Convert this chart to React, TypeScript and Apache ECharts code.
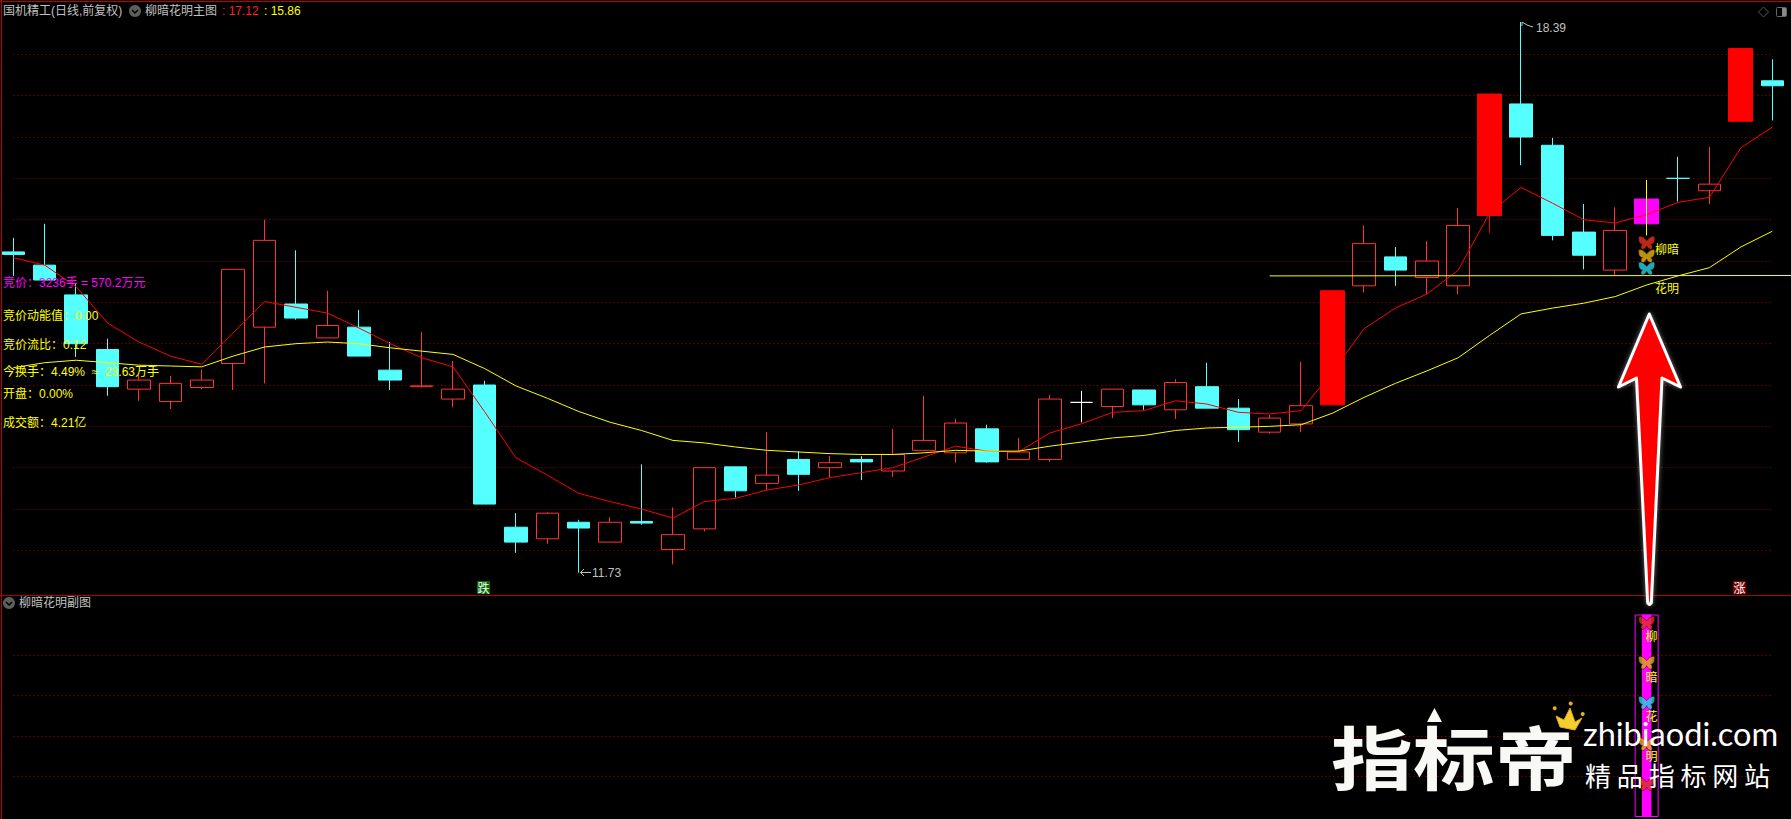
import React, { useEffect, useRef } from "react";
import * as echarts from "echarts";

const categories = Array.from({ length: 57 }, (_, i) => `D${i + 1}`);

const openVals = [15.61,15.45,15.09,14.43,13.95,13.80,13.97,14.26,14.70,14.98,14.57,14.70,14.18,13.98,13.83,14.00,12.28,12.14,12.34,12.10,12.35,12.01,12.26,13.01,12.81,13.10,13.00,13.10,12.96,13.21,13.18,13.47,13.10,13.10,13.79,13.74,13.94,13.70,13.98,13.72,13.43,13.53,13.76,15.20,15.55,15.30,15.20,16.05,17.40,16.90,15.85,15.39,15.95,16.50,16.35,17.19,17.68];
const closeVals = [15.58,15.27,14.50,13.98,14.06,14.02,14.06,15.40,15.75,14.81,14.72,14.35,14.06,13.99,13.95,12.56,12.10,12.45,12.27,12.34,12.33,12.19,13.00,12.72,12.91,12.92,13.06,13.07,13.16,13.33,13.54,13.07,13.19,13.83,13.79,13.95,13.76,14.03,13.72,13.46,13.60,13.75,15.14,15.71,15.39,15.50,15.93,17.52,17.00,15.81,15.57,15.87,16.25,16.50,16.43,18.07,17.62];
const lowVals = [15.32,15.27,14.34,13.87,13.81,13.71,13.95,13.94,14.02,14.79,14.57,14.35,13.94,13.97,13.73,12.56,11.97,12.08,11.73,12.10,12.31,11.83,12.23,12.64,12.73,12.72,12.88,12.85,12.89,13.20,13.06,13.06,13.10,13.07,13.55,13.60,13.70,13.59,13.72,13.31,13.41,13.43,13.76,15.12,15.20,15.10,15.10,15.84,16.66,15.75,15.40,15.33,15.81,16.22,16.19,17.19,17.20];
const highVals = [15.78,15.95,15.22,14.56,14.12,14.11,14.19,15.40,16.00,15.63,15.14,14.91,14.52,14.64,14.29,14.05,12.45,12.46,12.37,12.40,13.04,12.52,13.00,13.01,13.43,13.20,13.14,13.14,13.47,13.87,13.59,13.52,13.36,13.88,13.93,13.95,13.94,14.07,14.27,13.83,13.64,14.28,15.14,15.93,15.67,15.74,16.14,17.52,18.39,16.99,16.19,16.15,16.48,16.76,16.88,18.07,17.94];
// h hollow red, c cyan, s solid red, w white doji, m magenta
const candleKinds = [
  "c","c","c","c","h","h","h","h","h","c","h","c","c","h","h","c","c","h","c","h","c","h","h","c","h","c","h","c","h","h","h","c","h","h","w","h","c","h","c","c","h","h","s","h","c","h","h","s","c","c","c","h","m","c","h","s","c",
];

const redLine = [15.54,15.45,15.19,14.75,14.52,14.35,14.25,14.63,15.01,14.94,14.87,14.69,14.50,14.33,14.22,13.68,13.12,12.91,12.69,12.59,12.50,12.39,12.59,12.63,12.73,12.79,12.88,12.94,13.00,13.13,13.26,13.20,13.19,13.42,13.53,13.67,13.69,13.81,13.77,13.67,13.65,13.69,14.16,14.68,14.93,15.10,15.39,16.08,16.39,16.20,16.00,15.96,16.06,16.21,16.27,16.87,17.12];
const yellowLine = [14.21,14.27,14.30,14.27,14.24,14.23,14.22,14.35,14.46,14.50,14.52,14.50,14.45,14.41,14.37,14.20,13.99,13.84,13.68,13.55,13.45,13.33,13.30,13.25,13.21,13.19,13.17,13.16,13.16,13.18,13.21,13.20,13.20,13.26,13.31,13.36,13.39,13.45,13.48,13.49,13.50,13.52,13.66,13.85,14.02,14.17,14.33,14.60,14.86,14.93,14.99,15.07,15.21,15.32,15.42,15.67,15.86];
const signalLevel = 15.32;
const signalStartIndex = 40;
const signalIndex = 52;
const mainButterflies = [15.72, 15.56, 15.41];
const mainButterflyColors = ["#e8321e", "#e8b414", "#26d4e4"];
const subBarValue = 5;
const subButterflies = [4.79, 3.81, 2.82, 1.8, 0.81];
const subButterflyColors = ["#e0301e", "#e0ac14", "#26d4e4", "#e0ac14", "#e0301e"];

const headerTexts = [
  { t: "国机精工(日线,前复权)", x: 3, c: "#c0c0c0" },
  { t: "柳暗花明主图", x: 145, c: "#c0c0c0" },
  { t: ": 17.12", x: 222, c: "#ff2020" },
  { t: ": 15.86", x: 264, c: "#ffff00" },
];
const leftTexts = [
  { t: "竞价：3236手 = 570.2万元", y: 282.5, c: "#ff00ff" },
  { t: "竞价动能值：0.00", y: 316, c: "#ffff00" },
  { t: "竞价流比：0.12", y: 344.5, c: "#ffff00" },
  { t: "今换手：4.49%  ≈  23.63万手", y: 371.5, c: "#ffff00" },
  { t: "开盘：0.00%", y: 394, c: "#ffff00" },
  { t: "成交额：4.21亿", y: 422.5, c: "#ffff00" },
];

const FONT = '"Liberation Sans","Noto Sans CJK SC",sans-serif';
const CJK = '"Noto Sans CJK SC",sans-serif';
const BUTTERFLY =
  "path://M8 4.5C6.5 2.5 4 0 1.5 0C0 0 0 1.5 0.3 4C0.6 6.5 2 8 4 8.2C2.5 9 2 11 3 12.7C4 14 6.8 12.5 8 9.5C9.2 12.5 12 14 13 12.7C14 11 13.5 9 12 8.2C14 8 15.4 6.5 15.7 4C16 1.5 16 0 14.5 0C12 0 9.5 2.5 8 4.5Z";

const styleOf = (fill: string, border: string) => ({
  color: fill,
  color0: fill,
  borderColor: border,
  borderColor0: border,
  borderWidth: 1,
});
const NONE = "rgba(0,0,0,0)";
const kindStyle: Record<string, any> = {
  h: styleOf(NONE, "#ff3232"),
  c: styleOf("#55ffff", "#55ffff"),
  w: styleOf("#ffffff", "#ffffff"),
  s: styleOf("#ff0000", "#ff0000"),
  m: styleOf("#ff00ff", "#ff00ff"),
};

const txt = (t: string, x: number, y: number, fill: string, font = `12px ${FONT}`, extra: any = {}) => ({
  type: "text",
  silent: true,
  z: 50,
  x,
  y,
  style: { text: t, fill, font, verticalAlign: "middle", align: "left", ...extra },
});

const chevronIcon = (cx: number, cy: number) => [
  { type: "circle", silent: true, z: 50, shape: { cx, cy, r: 6 }, style: { fill: "#5e5e5e" } },
  {
    type: "polyline",
    silent: true,
    z: 51,
    shape: { points: [[cx - 3, cy - 1], [cx, cy + 2], [cx + 3, cy - 1]] },
    style: { stroke: "#000", fill: "none", lineWidth: 1.5 },
  },
];

function buildOption() {
  const blank = ["-", "-", "-", "-"];
  const ohlc = (i: number) => [openVals[i], closeVals[i], lowVals[i], highVals[i]];
  const thin = categories.map((_, i) =>
    "hcw".includes(candleKinds[i]) ? { value: ohlc(i), itemStyle: kindStyle[candleKinds[i]] } : { value: blank }
  );
  const wide = categories.map((_, i) =>
    "sm".includes(candleKinds[i]) ? { value: ohlc(i), itemStyle: kindStyle[candleKinds[i]] } : { value: blank }
  );
  const wick = categories.map((_, i) =>
    i === signalIndex ? [lowVals[i], lowVals[i], lowVals[i], highVals[i]] : blank
  );

  const splitLine = {
    show: true,
    showMinLine: false,
    showMaxLine: false,
    lineStyle: { color: "#aa0000", type: [1, 3] as any, width: 1 },
  };
  const hiddenAxis = {
    axisLine: { show: false },
    axisTick: { show: false },
    axisLabel: { show: false },
  };
  const gridX = { left: 13.3, width: 1759 };
  const wmShadow = { shadowBlur: 5, shadowColor: "rgba(255,255,255,0.4)" };

  const graphic: any[] = [
    // frame
    { type: "line", silent: true, z: 40, shape: { x1: 0, y1: 1.5, x2: 1791, y2: 1.5 }, style: { stroke: "#c00000", lineWidth: 1 } },
    { type: "line", silent: true, z: 40, shape: { x1: 1.5, y1: 0, x2: 1.5, y2: 819 }, style: { stroke: "#c00000", lineWidth: 1 } },
    { type: "line", silent: true, z: 40, shape: { x1: 0, y1: 595.5, x2: 1791, y2: 595.5 }, style: { stroke: "#b00000", lineWidth: 1 } },
    ...chevronIcon(135, 11),
    ...chevronIcon(9, 603),
    ...headerTexts.map((h) => txt(h.t, h.x, 11, h.c)),
    txt("柳暗花明副图", 19, 603, "#c0c0c0"),
    ...leftTexts.map((l) => txt(l.t, 3, l.y, l.c)),
    // top-right tools
    { type: "polygon", silent: true, z: 50, shape: { points: [[1763.5, 7], [1768.5, 12], [1763.5, 17], [1758.5, 12]] }, style: { fill: "none", stroke: "#555", lineWidth: 1 } },
    { type: "rect", silent: true, z: 50, shape: { x: 1776.5, y: 7.5, width: 10, height: 9, r: 1 }, style: { fill: "none", stroke: "#666", lineWidth: 1 } },
    { type: "rect", silent: true, z: 50, shape: { x: 1782, y: 8, width: 4, height: 8 }, style: { fill: "#888" } },
    // extreme price tags
    txt("18.39", 1536, 28, "#c0c0c0"),
    { type: "polyline", silent: true, z: 50, shape: { points: [[1522, 26], [1522, 22], [1527, 25], [1533, 27]] }, style: { stroke: "#c0c0c0", fill: "none", lineWidth: 1 } },
    txt("11.73", 592, 573, "#c0c0c0"),
    { type: "polyline", silent: true, z: 50, shape: { points: [[584, 569], [580.5, 572.5], [591, 572.5]] }, style: { stroke: "#c0c0c0", fill: "none", lineWidth: 1 } },
    { type: "polyline", silent: true, z: 50, shape: { points: [[580.5, 572.5], [584, 576]] }, style: { stroke: "#c0c0c0", fill: "none", lineWidth: 1 } },
    // rise / fall stamps
    { type: "rect", silent: true, z: 50, shape: { x: 477, y: 581, width: 13, height: 13 }, style: { fill: "#006a00" } },
    { ...txt("跌", 477.5, 587.5, "#ffffff", `12px ${CJK}`), z: 51 },
    { type: "rect", silent: true, z: 50, shape: { x: 1733, y: 581, width: 13, height: 13 }, style: { fill: "#7a0000" } },
    { ...txt("涨", 1733.5, 587.5, "#ffffff", `12px ${CJK}`), z: 51 },
    // signal labels
    txt("柳暗", 1655, 248, "#ffff00", `12px ${CJK}`),
    txt("花明", 1655, 287, "#ffff00", `12px ${CJK}`),
    txt("柳", 1645.5, 635, "#ffff00", `12px ${CJK}`),
    txt("暗", 1645.5, 676, "#ffff00", `12px ${CJK}`),
    txt("花", 1645.5, 715, "#ffff00", `12px ${CJK}`),
    txt("明", 1645.5, 755, "#ffff00", `12px ${CJK}`),
    // big arrow
    {
      type: "polygon",
      silent: true,
      z: 60,
      shape: {
        points: [[1649.3, 314], [1680.5, 387], [1662, 378], [1651.3, 603], [1649.5, 604.5], [1647.7, 603], [1636.5, 378], [1618.5, 387]],
      },
      style: { fill: "#ff0000", stroke: "#ffffff", lineWidth: 3, lineJoin: "round", shadowBlur: 5, shadowColor: "rgba(255,255,255,0.45)" },
    },
    // watermark
    { ...txt("指标帝", 1331, 755, "#f8f8f4", `700 82px ${CJK}`, wmShadow), z: 61, scaleY: 0.85 },
    { type: "polygon", silent: true, z: 61, shape: { points: [[1434.5, 708], [1442, 722], [1427, 722]] }, style: { fill: "#f8f8f4" } },
    { type: "polygon", silent: true, z: 62, shape: { points: [[1556, 716], [1564, 720], [1570, 708], [1575, 722], [1582, 718], [1575, 730], [1560, 727]] }, style: { fill: "#f5cf30", stroke: "#e0a810", lineWidth: 1, lineJoin: "round" } },
    { type: "circle", silent: true, z: 62, shape: { cx: 1554.7, cy: 708.3, r: 2 }, style: { fill: "#e8b020" } },
    { type: "circle", silent: true, z: 62, shape: { cx: 1570.7, cy: 703.5, r: 2 }, style: { fill: "#e8b020" } },
    { type: "circle", silent: true, z: 62, shape: { cx: 1582.7, cy: 714, r: 2 }, style: { fill: "#e8b020" } },
    { ...txt("zhibiaodi.com", 1583, 733, "#ffffff", `32.5px Lato,sans-serif`, wmShadow), z: 61 },
    { ...txt("精 品 指 标 网 站", 1585, 774, "#ffffff", `26px ${CJK}`, wmShadow), z: 61 },
  ];

  return {
    animation: false,
    backgroundColor: "#000000",
    grid: [
      { ...gridX, top: 13, height: 578.7 },
      { ...gridX, top: 614.5, height: 202.5 },
    ],
    xAxis: [
      { type: "category", gridIndex: 0, data: categories, show: false, boundaryGap: false },
      { type: "category", gridIndex: 1, data: categories, show: false, boundaryGap: false },
      { type: "category", gridIndex: 1, data: categories, show: false, boundaryGap: false, position: "top" },
    ],
    yAxis: [
      { type: "value", gridIndex: 0, min: 11.5, max: 18.5, interval: 0.5, scale: true, ...hiddenAxis, splitLine },
      { type: "value", gridIndex: 1, min: 0, max: 5, interval: 1, ...hiddenAxis, splitLine },
    ],
    series: [
      { type: "candlestick", name: "K", xAxisIndex: 0, yAxisIndex: 0, barWidth: 23, clip: false, data: thin, z: 2 },
      { type: "candlestick", name: "KSolid", xAxisIndex: 0, yAxisIndex: 0, barWidth: 24.5, clip: false, data: wide, z: 2 },
      {
        type: "line",
        name: "MA5",
        xAxisIndex: 0,
        yAxisIndex: 0,
        data: redLine,
        showSymbol: false,
        clip: false,
        lineStyle: { color: "#ff0000", width: 1 },
        z: 3,
      },
      {
        type: "line",
        name: "MA20",
        xAxisIndex: 0,
        yAxisIndex: 0,
        data: yellowLine,
        showSymbol: false,
        clip: false,
        lineStyle: { color: "#ffff00", width: 1 },
        z: 3,
        markLine: {
          silent: true,
          symbol: ["none", "none"],
          label: { show: false },
          lineStyle: { color: "#ffff00", type: "solid", width: 1 },
          data: [[{ coord: [signalStartIndex, signalLevel] }, { x: 1791, y: 275.5 }]],
        },
      },
      {
        type: "candlestick",
        name: "SignalWick",
        xAxisIndex: 0,
        yAxisIndex: 0,
        barWidth: 1,
        clip: false,
        data: wick,
        itemStyle: styleOf("#ffff00", "#ffff00"),
        z: 3,
      },
      {
        type: "scatter",
        name: "Butterflies",
        xAxisIndex: 0,
        yAxisIndex: 0,
        symbol: BUTTERFLY,
        symbolSize: [16, 13],
        z: 5,
        data: mainButterflies.map((v, i) => ({
          value: [signalIndex, v],
          itemStyle: { color: mainButterflyColors[i], borderColor: "#401008", borderWidth: 0.5 },
        })),
      },
      {
        type: "bar",
        name: "SubOutline",
        xAxisIndex: 2,
        yAxisIndex: 1,
        barWidth: 24,
        data: categories.map((_, i) => (i === signalIndex ? subBarValue : "-")),
        itemStyle: { color: NONE, borderColor: "#ff00ff", borderWidth: 1 },
        z: 2,
      },
      {
        type: "bar",
        name: "SubFill",
        xAxisIndex: 1,
        yAxisIndex: 1,
        barWidth: 9.5,
        data: categories.map((_, i) => (i === signalIndex ? subBarValue : "-")),
        itemStyle: { color: "#ff00ff" },
        z: 2,
      },
      {
        type: "scatter",
        name: "SubButterflies",
        xAxisIndex: 1,
        yAxisIndex: 1,
        symbol: BUTTERFLY,
        symbolSize: [16, 13],
        z: 5,
        data: subButterflies.map((v, i) => ({
          value: [signalIndex, v],
          itemStyle: { color: subButterflyColors[i], borderColor: "#000", borderWidth: 0.5 },
        })),
      },
    ],
    graphic: { elements: graphic },
  };
}

export default function App() {
  const ref = useRef<HTMLDivElement>(null);
  useEffect(() => {
    document.body.style.margin = "0";
    document.body.style.background = "#000";
    const chart = echarts.init(ref.current!, undefined, { renderer: "svg" });
    chart.setOption(buildOption() as any);
    return () => chart.dispose();
  }, []);
  return <div ref={ref} style={{ width: 1791, height: 819 }} />;
}
